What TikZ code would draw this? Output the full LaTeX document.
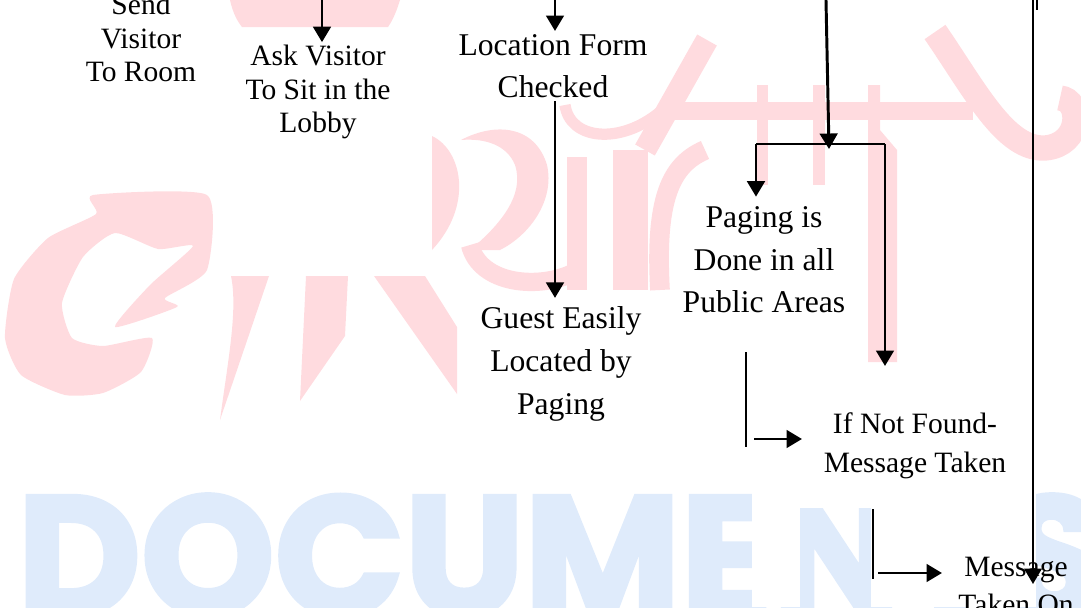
\documentclass[tikz,border=0pt]{standalone}
\usepackage{fontspec}
\setmainfont{Liberation Serif}
\newfontfamily\wmfont{Poppins}[BoldFeatures={FakeBold=2.5}]
\usepackage{tikz}
\usetikzlibrary{positioning, arrows.meta, calc}
\definecolor{wmpink}{RGB}{255,219,223}
\definecolor{wmblue}{RGB}{223,235,251}
\tikzset{
    bigtext/.style={align=center, inner sep=2pt, font=\fontsize{22.5}{30.3}\selectfont},
    smalltext/.style={align=center, inner sep=2pt, font=\fontsize{21}{23.7}\selectfont},
    midtext/.style={align=center, inner sep=2pt, font=\fontsize{21}{27.5}\selectfont},
    link/.style={line width=2.1pt},
    rule/.style={line width=1.5pt},
    wmark/.style={fill=wmpink, draw=none},
    wmstroke/.style={draw=wmpink, line cap=butt},
    >={Triangle[length=11pt, width=12.5pt]},
}

\begin{document}
\begin{tikzpicture}[x=0.025cm, y=-0.025cm]
        \useasboundingbox (0,0) rectangle (1081,607);
        % watermark behind the chart
        \fill[wmark] (230,0) .. controls (233,14) and (238,22) .. (242,27) -- (388,27) .. controls (393,20) and (397,10) .. (400,0) -- cycle;
        \fill[wmark] plot[smooth cycle, tension=0.35] coordinates {(93,195) (207,195) (207,270) (165,298) (177,307) (115,327) (150,285) (193,246) (158,249) (115,233) (83,257) (62,303) (72,338) (103,346) (152,338) (141,372) (103,393) (65,395) (21,375) (5,338) (14,279) (48,238) (96,214)};
        \fill[wmark] (231,276) -- (269,276) -- (220,420) .. controls (228,360) and (238,310) .. (231,276);
        \fill[wmark] (306,276) -- (348,276) -- (345,336) -- (300,401) -- cycle;
        \fill[wmark] (374,276) -- (425,276) -- (457,327) -- (457,394) -- cycle;
        \fill[wmark] (432,136) .. controls (462,150) and (474,205) .. (432,250) -- cycle;
        \fill[wmark] (461,140) .. controls (495,122) and (535,125) .. (547,165) .. controls (555,200) and (530,235) .. (500,250) -- (470,250) .. controls (500,225) and (525,195) .. (515,165) .. controls (507,145) and (485,138) .. (461,140) -- cycle;
        \draw[wmstroke, line width=13pt] (470,245) .. controls (480,285) and (540,290) .. (575,272);
        \fill[wmark] (567,157) rectangle (587,290);
        \fill[wmark] (613,150) rectangle (648,290);
        \draw[wmstroke, line width=8pt] (565,105) .. controls (570,140) and (620,145) .. (660,112);
        \draw[wmstroke, line width=16pt] (645,150) -- (707,40);
        \draw[wmstroke, line width=14pt] (705,150) .. controls (670,165) and (655,200) .. (660,290);
        \fill[wmark] (673,102) rectangle (973,120);
        \fill[wmark] (757,85) rectangle (768,185);
        \fill[wmark] (813,85) rectangle (825,185);
        \fill[wmark] (868,85) -- (880,85) -- (880,130) -- (897,150) -- (897,362) -- (868,362) -- cycle;
        \draw[wmstroke, line width=18pt] (935,32) .. controls (975,90) and (1005,150) .. (1045,148) .. controls (1082,145) and (1082,100) .. (1060,98);
        \node[anchor=north west, inner sep=0pt, text=wmblue, font=\wmfont\bfseries\fontsize{121}{121}\selectfont] (docs) at (17,494) {DOCUMENTS};
        \fill[white] (752,470) rectangle (1036,508);
        \fill[white] (752,508) rectangle (800,607);
        \fill[white] (871,508) rectangle (1036,607);

        % the chart
        \node[smalltext] (send) at (141,38) {Send\\Visitor\\To Room};
        \node[smalltext] (ask) at (318,92) {Ask Visitor\\To Sit in the\\Lobby};
        \node[bigtext] (locform) at (553,66) {Location Form\\Checked};
        \node[bigtext] (guest) at (561,364) {Guest Easily\\Located by\\Paging};
        \node[bigtext] (paging) at (764,260) {Paging is\\Done in all\\Public Areas};
        \node[midtext] (notfound) at (915,446) {If Not Found-\\Message Taken};
        \node[midtext] (msg) at (1016,586) {Message\\Taken On};

        \coordinate (inask) at (322,0);
        \coordinate (inloc) at (555,0);
        \coordinate (inpage) at (826,0);
        \coordinate (forktip) at (829,149);
        \coordinate (forkl) at (756,144);
        \coordinate (forkr) at (885,144);
        \coordinate (nftip) at (885,366);
        \coordinate (inmsg) at (1033,0);
        \coordinate (msgtip) at (1033,584);
        \coordinate (bar1t) at (746,352);
        \coordinate (bar1b) at (746,447);
        \coordinate (arr1s) at (754,439);
        \coordinate (arr1e) at (802,439);
        \coordinate (bar2t) at (873,509);
        \coordinate (bar2b) at (873,579);
        \coordinate (arr2s) at (878,573);
        \coordinate (arr2e) at (942,573);

        \draw[link, ->] (inask) -- (inask |- ask.north);
        \draw[link, ->] (inloc) -- (inloc |- locform.north);
        \draw[link, ->] (inloc |- locform.south) -- ($(inloc |- guest.north)+(0,-6)$);
        \draw[link, ->] (inpage) -- (forktip);
        \draw[link] (forkl) -- (forkr);
        \draw[link, ->] (forkl) -- ($(forkl |- paging.north)+(0,-7)$);
        \draw[link, ->] (forkr) -- (nftip);
        \draw[rule] (bar1t) -- (bar1b);
        \draw[link, ->] (arr1s) -- (arr1e);
        \draw[rule] (bar2t) -- (bar2b);
        \draw[link, ->] (arr2s) -- (arr2e);
        \draw[rule, ->] (inmsg) -- (msgtip);
        \draw[rule] (1037,0) -- (1037,10);
    \end{tikzpicture}
\end{document}
